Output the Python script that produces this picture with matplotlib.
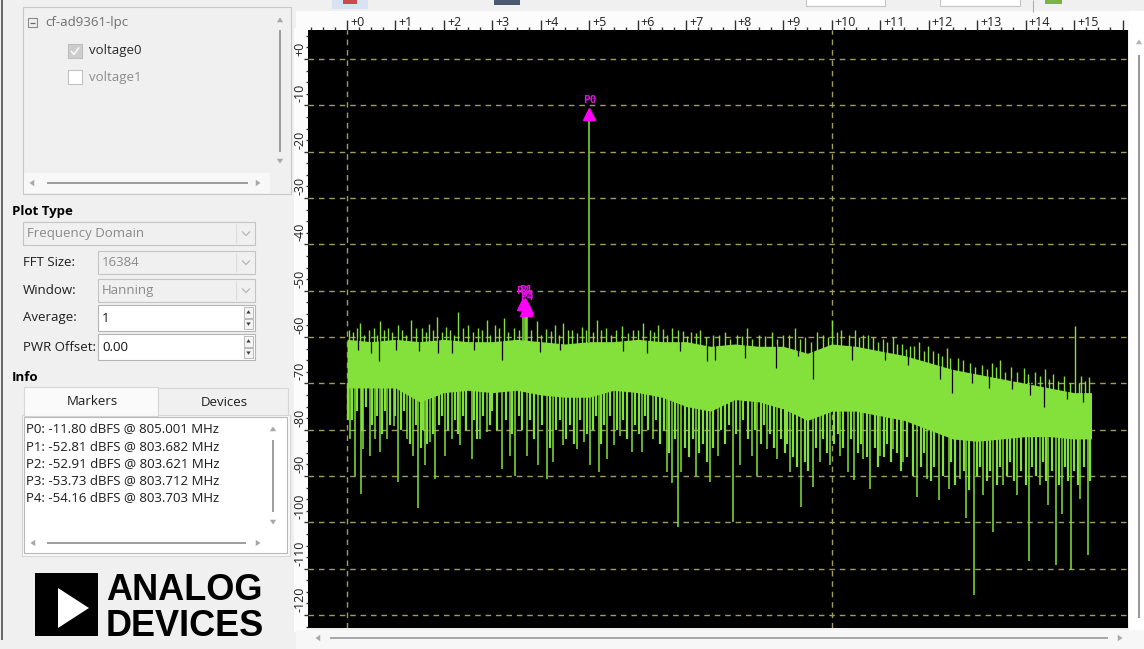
import numpy as np
import matplotlib.pyplot as plt
from matplotlib.patches import Rectangle, Polygon
from matplotlib.ticker import AutoMinorLocator
from matplotlib.transforms import ScaledTranslation

plt.rcParams['font.family'] = ['Open Sans', 'Noto Sans', 'DejaVu Sans']

# ---- spectrum data: x = MHz above 800 MHz, y = dBFS ----
band_f = [0, 0.5, 1.0, 1.5, 2.0, 2.5, 3.0, 3.5, 4.0, 4.5, 5.0, 5.5, 6.0, 6.5, 7.0, 7.5,
          8.0, 8.5, 9.0, 9.5, 10.0, 10.5, 11.0, 11.5, 12.0, 12.5, 13.0, 13.5, 14.0, 14.5, 15.0, 15.36]
# top and bottom of the solid noise floor
band_hi = [-60.5, -61, -60.5, -61, -60.5, -61, -61, -60.5, -61, -61.5, -61, -61, -60.5, -61, -61, -62,
           -61.5, -62, -62, -63.5, -61.5, -62, -63, -64, -65.5, -67, -68, -69, -70, -71, -72, -72]
band_lo = [-71, -71, -71, -74, -72, -71.5, -72, -71.5, -72.5, -73, -73, -71.5, -72, -73, -75, -76,
           -73.5, -74, -75.5, -78, -76, -76, -77, -78, -80, -82, -82.5, -82, -81.5, -81.5, -82, -82]

# upper fringe of the floor
up_spikes = [(0.05, -58.5), (0.12, -59), (0.20, -58), (0.27, -57), (0.36, -59.5), (0.45, -58.5),
             (0.55, -58), (0.62, -59.5), (0.68, -56.6), (0.76, -58.5), (0.85, -58), (0.93, -59),
             (1.05, -57.5), (1.13, -58.5), (1.22, -59.5), (1.33, -56.3), (1.42, -58), (1.55, -58),
             (1.63, -59), (1.70, -57.2), (1.78, -58.5), (1.85, -55.6), (1.96, -59), (2.05, -57.8),
             (2.13, -58.5), (2.20, -59.5), (2.30, -54.5), (2.40, -58), (2.50, -57.5), (2.60, -59),
             (2.70, -58), (2.78, -58.5), (2.88, -56.3), (2.96, -59.5), (3.05, -57.5), (3.13, -58),
             (3.23, -55.9), (3.33, -59), (3.45, -58), (3.55, -58.5), (3.80, -58.5), (3.91, -56.6),
             (4.00, -59.5), (4.10, -58.2), (4.20, -58.7), (4.30, -57.5), (4.38, -59.5), (4.46, -57),
             (4.56, -58.5), (4.65, -58.5), (4.75, -59.2), (4.85, -57.8), (4.94, -58.5), (5.08, -59),
             (5.15, -56.3), (5.25, -58.5), (5.35, -58), (5.45, -59.5), (5.55, -58.5), (5.67, -57.7),
             (5.80, -59.2), (5.90, -58.5), (6.00, -58.5), (6.11, -57), (6.25, -58.5), (6.33, -59),
             (6.42, -57.3), (6.52, -58.3), (6.60, -59.5), (6.70, -58), (6.82, -58.5), (6.94, -58.8),
             (7.02, -59.8), (7.10, -59), (7.20, -59.2), (7.28, -58.4), (7.40, -60), (7.55, -59.5),
             (7.68, -59.5), (7.80, -59), (7.90, -60.5), (8.05, -59.5), (8.15, -59.8), (8.25, -58),
             (8.35, -60.5), (8.50, -59.5), (8.62, -59.8), (8.76, -59), (8.88, -60.5), (9.00, -59.5),
             (9.12, -59.5), (9.24, -58), (9.35, -60.5), (9.45, -60), (9.58, -61), (9.70, -59),
             (9.82, -59.5), (9.92, -60), (10.0, -56.3), (10.10, -59), (10.20, -58.5), (10.35, -59.5),
             (10.48, -58.4), (10.57, -60), (10.65, -59.5), (10.75, -59.5), (10.86, -59.9),
             (10.95, -61), (11.05, -60.5), (11.15, -61), (11.27, -59.9), (11.35, -61.5),
             (11.45, -61.5), (11.53, -62.5), (11.62, -62), (11.70, -62), (11.80, -61), (11.90, -63),
             (11.99, -62), (12.08, -63), (12.20, -63.5), (12.28, -64), (12.37, -62.4), (12.45, -64.5),
             (12.60, -64.5), (12.70, -65), (12.86, -65.6), (12.95, -66.5), (13.10, -66), (13.20, -67),
             (13.30, -65.5), (13.38, -66.5), (13.47, -64.9), (13.58, -67.5), (13.70, -66.5),
             (13.82, -67.5), (13.96, -66.6), (14.05, -68), (14.20, -67.5), (14.30, -68.5),
             (14.40, -67), (14.48, -69), (14.57, -68), (14.66, -69.5), (14.80, -68.5), (14.92, -70),
             (15.02, -57.7), (15.10, -70), (15.15, -68.5), (15.22, -69.5), (15.30, -68.6)]

# forest of short downward lines just under the floor
mid_spikes = [(0.02, -78), (0.10, -78), (0.20, -76), (0.31, -80), (0.40, -75), (0.52, -79),
              (0.62, -77), (0.73, -81), (0.78, -76), (0.88, -79), (1.00, -77), (1.12, -80),
              (1.18, -76), (1.29, -83), (1.42, -79), (1.52, -84), (1.57, -80), (1.66, -83),
              (1.77, -81), (1.90, -79), (1.96, -77), (2.09, -80), (2.22, -78), (2.28, -81),
              (2.40, -77), (2.46, -80), (2.63, -78), (2.68, -82), (2.80, -77), (2.94, -79),
              (3.00, -76), (3.10, -80), (3.28, -78), (3.41, -81), (3.55, -77), (3.60, -80),
              (3.78, -78), (3.85, -82), (4.02, -79), (4.18, -84), (4.32, -80), (4.40, -78),
              (4.52, -82), (4.60, -79), (4.68, -83), (4.80, -78), (4.95, -81), (5.08, -80),
              (5.13, -77), (5.25, -83), (5.30, -79), (5.42, -77), (5.56, -80), (5.70, -78),
              (5.78, -82), (5.95, -79), (6.02, -81), (6.15, -77), (6.22, -80), (6.38, -78),
              (6.45, -83), (6.54, -80), (6.65, -85), (6.76, -82), (6.97, -84), (7.05, -86),
              (7.13, -82), (7.27, -85), (7.35, -83), (7.42, -87), (7.56, -84), (7.72, -80),
              (7.80, -83), (7.88, -79), (8.02, -81), (8.18, -78), (8.27, -82), (8.41, -80),
              (8.55, -83), (8.60, -79), (8.72, -81), (8.80, -84), (8.95, -82), (9.03, -85),
              (9.08, -83), (9.20, -86), (9.28, -88), (9.44, -87), (9.52, -89), (9.68, -84),
              (9.82, -82), (9.90, -85), (10.05, -83), (10.12, -81), (10.24, -84), (10.40, -82),
              (10.55, -85), (10.60, -83), (10.72, -86), (10.90, -84), (10.95, -88), (11.08, -86),
              (11.15, -83), (11.22, -87), (11.35, -85), (11.42, -89), (11.55, -86), (11.68, -90),
              (11.85, -88), (11.90, -85), (12.05, -91), (12.12, -88), (12.30, -90), (12.47, -87),
              (12.55, -92), (12.72, -89), (12.83, -93), (13.00, -90), (13.06, -88), (13.20, -91),
              (13.27, -89), (13.40, -92), (13.48, -88), (13.62, -90), (13.68, -87), (13.77, -91),
              (13.90, -89), (14.00, -92), (14.14, -88), (14.22, -90), (14.36, -87), (14.42, -91),
              (14.55, -89), (14.68, -92), (14.82, -88), (14.88, -91), (15.00, -89), (15.08, -92),
              (15.20, -88), (15.33, -91)]

# long downward lines
down_spikes = [(0.06, -82), (0.17, -89.9), (0.28, -93.8), (0.34, -84.1), (0.47, -85.6), (0.58, -82),
               (0.68, -84.9), (0.82, -82), (0.96, -79.1), (1.06, -91.3), (1.23, -82), (1.37, -85.6),
               (1.46, -97), (1.61, -87.7), (1.71, -82.7), (1.82, -90.6), (2.02, -85.6), (2.16, -82),
               (2.33, -83.4), (2.57, -86.3), (2.74, -82), (2.88, -80.6), (3.19, -88.4), (3.36, -85.6),
               (3.47, -89.9), (3.71, -85.6), (3.95, -87.7), (4.12, -90.6), (4.26, -87), (4.46, -83.4),
               (4.74, -84.1), (4.88, -82.7), (5.01, -87.7), (5.19, -89.1), (5.36, -86.3), (5.50, -83.4),
               (5.63, -81.3), (5.87, -84.9), (6.08, -84.9), (6.32, -82), (6.60, -89.1), (6.70, -91.6),
               (6.82, -100.9), (6.90, -89.1), (7.21, -89.9), (7.49, -91.3), (7.66, -85.6), (7.96, -99.9),
               (8.11, -87.7), (8.35, -85.6), (8.45, -89.9), (8.66, -84.1), (8.87, -86.3), (9.14, -89.1),
               (9.37, -96.6), (9.61, -92.4), (9.76, -87), (9.97, -87.7), (10.17, -85.6), (10.34, -89.1),
               (10.45, -90.9), (10.65, -86.3), (10.79, -92.7), (11.00, -85.6), (11.27, -84.1),
               (11.48, -87), (11.75, -94.5), (11.96, -90.6), (12.21, -95.2), (12.41, -92.7),
               (12.65, -90.6), (12.77, -99.1), (12.94, -115.6), (13.13, -94.1), (13.32, -102),
               (13.54, -92), (13.82, -94.1), (14.07, -108.4), (14.30, -92), (14.47, -96.3),
               (14.62, -109.1), (14.75, -98.1), (14.94, -110.2), (15.13, -94.9), (15.28, -107)]

# dark gaps reaching down from the top of the floor
notches = [(0.23, -62.8), (0.50, -63.5), (0.67, -65.2), (1.02, -62.8), (1.48, -63), (1.88, -63.5),
           (2.16, -63.4), (2.62, -62.8), (3.19, -64.9), (3.98, -63.2), (4.40, -62.7), (5.70, -63),
           (6.18, -63.5), (6.86, -63), (7.42, -65.2), (7.59, -64.9), (8.21, -64.6), (8.86, -66.6),
           (9.30, -64), (9.62, -69.1), (10.42, -64.9), (11.10, -65), (11.58, -66), (12.24, -69.1),
           (12.48, -72), (12.90, -70), (13.25, -71), (13.71, -71.3), (14.10, -72.5), (14.37, -75.2),
           (14.85, -73.4), (15.18, -74)]

marker_names = ["P0", "P1", "P2", "P3", "P4"]
marker_f = [5.001, 3.682, 3.621, 3.712, 3.703]
marker_db = [-11.80, -52.81, -52.91, -53.73, -54.16]

x_ticks = [0, 1, 2, 3, 4, 5, 6, 7, 8, 9, 10, 11, 12, 13, 14, 15, 16]
x_tick_labels = ["+0", "+1", "+2", "+3", "+4", "+5", "+6", "+7", "+8", "+9",
                 "+10", "+11", "+12", "+13", "+14", "+15", ""]
y_ticks = [0, -10, -20, -30, -40, -50, -60, -70, -80, -90, -100, -110, -120]
y_tick_labels = ["+0", "-10", "-20", "-30", "-40", "-50", "-60", "-70", "-80", "-90",
                 "-100", "-110", "-120"]

GREEN = '#84e03a'
MAGENTA = '#ff00ff'
GRID = '#a09c5c'
GUI = '#f0f0f0'
UI_SIZE = 9.5

W, H = 1144, 649
fig = plt.figure(figsize=(W / 100, H / 100), dpi=100, facecolor=GUI)

# ---------- GUI layer, pixel coordinates ----------
ui = fig.add_axes([0, 0, 1, 1], zorder=0)
ui.set_xlim(0, W)
ui.set_ylim(H, 0)
ui.axis('off')


def rect(x0, y0, x1, y1, fc, ec='none', lw=0.8):
    ui.add_patch(Rectangle((x0, y0), x1 - x0, y1 - y0, fc=fc, ec=ec, lw=lw))


def label(x, y, s, size=UI_SIZE, color='#1e1e1e', weight='normal', ha='left'):
    ui.text(x, y, s, fontsize=size, color=color, fontweight=weight, ha=ha, va='center')


def tri(cx, cy, d, s=3.2, color='#a8a8a8'):
    pts = {'up': [(cx - s, cy + s * 0.7), (cx + s, cy + s * 0.7), (cx, cy - s * 0.8)],
           'down': [(cx - s, cy - s * 0.7), (cx + s, cy - s * 0.7), (cx, cy + s * 0.8)],
           'left': [(cx + s * 0.7, cy - s), (cx + s * 0.7, cy + s), (cx - s * 0.8, cy)],
           'right': [(cx - s * 0.7, cy - s), (cx - s * 0.7, cy + s), (cx + s * 0.8, cy)]}[d]
    ui.add_patch(Polygon(pts, closed=True, fc=color, ec='none'))


def line(xs, ys, color='#8c8c8c', lw=1.2):
    ui.plot(xs, ys, color=color, lw=lw, solid_capstyle='butt')


def combo(x0, y0, x1, y1, text):
    rect(x0, y0, x1, y1, GUI, '#c4c4c4')
    label(x0 + 4, (y0 + y1) / 2, text, color='#8a8a8a')
    line([x1 - 19, x1 - 19], [y0 + 2, y1 - 2], color='#dcdcdc', lw=0.8)
    cx, cy = x1 - 9, (y0 + y1) / 2
    line([cx - 4, cx, cx + 4], [cy - 2, cy + 2, cy - 2], color='#b0b0b0', lw=0.8)


def spin(x0, y0, x1, y1, text):
    rect(x0, y0, x1, y1, 'white', '#b4b4b4')
    label(x0 + 4, (y0 + y1) / 2 + 0.5, text, color='#111111')
    rect(x1 - 11, y0 + 2, x1 - 2, (y0 + y1) / 2 - 0.5, '#f4f4f4', '#b0b0b0', 0.6)
    rect(x1 - 11, (y0 + y1) / 2 + 0.5, x1 - 2, y1 - 2, '#f4f4f4', '#b0b0b0', 0.6)
    tri(x1 - 6.5, y0 + 7, 'up', 2.2, '#404040')
    tri(x1 - 6.5, y1 - 7, 'down', 2.2, '#404040')


# window border + toolbar fragments
line([2, 2], [0, 640], color='#505050', lw=1.2)
rect(332, -3, 368, 9, '#d6e3f3')
rect(343, -3, 357, 4, '#cc4a4a')
rect(494, -3, 520, 5, '#4a5870')
rect(806, -3, 885, 6, 'white', '#c4c4c4')
rect(940, -3, 1020, 6, 'white', '#c4c4c4')
line([1033, 1033], [0, 12], color='#b0b0b0', lw=0.8)
rect(1045, -3, 1062, 4, '#7bb246')

# device tree
rect(23, 7, 291, 194, GUI, '#c8c8c8')
rect(24, 173, 270, 193, '#f8f8f8')
rect(28, 18, 37, 27, 'none', '#8a8a8a')
line([30, 35], [22.5, 22.5], color='#6a6a6a', lw=0.9)
label(45, 22.5, 'cf-ad9361-lpc', color='#707070')
rect(68, 44, 82, 58, '#cdcdcd', '#bdbdbd')
line([71, 74, 79], [51, 54.5, 47.5], color='white', lw=1.0)
label(89, 50.5, 'voltage0', color='#2a2a2a')
rect(68, 70, 82, 84, 'white', '#c2c2c2')
label(89, 77, 'voltage1', color='#8c8c8c')
tri(280, 20, 'up')
tri(280, 161, 'down')
line([280, 280], [30, 152])
tri(32, 183, 'left')
tri(258, 183, 'right')
line([47, 248], [183, 183])

# plot type settings
label(12, 211, 'Plot Type', weight='bold', color='#000000')
combo(23, 222, 255, 245, 'Frequency Domain')
label(23, 262.5, 'FFT Size:')
combo(98, 251, 255, 274, '16384')
label(23, 290.5, 'Window:')
combo(98, 279, 255, 302, 'Hanning')
label(23, 318, 'Average:')
spin(98, 305, 255, 331, '1')
label(23, 347.5, 'PWR Offset:')
spin(98, 334, 255, 360, '0.00')
label(12, 377.5, 'Info', weight='bold', color='#000000')

# info tabs
rect(22, 415, 290, 556, '#fafafa', '#d6d6d6')
rect(24, 387, 158, 416, '#fafafa', '#d6d6d6')
rect(158, 388, 288, 415, GUI, '#d6d6d6')
label(92, 401.5, 'Markers', ha='center')
label(224, 402.5, 'Devices', ha='center')
rect(24, 417, 287, 553, 'white', '#b8b8b8')
for i, (name, f, db) in enumerate(zip(marker_names, marker_f, marker_db)):
    label(26, 429 + i * 17.2, f"{name}: {db:.2f} dBFS @ {800 + f:.3f} MHz", color='#1a1a1a')
tri(273, 429, 'up')
tri(273, 522, 'down')
line([273, 273], [440, 512])
tri(33, 543, 'left')
tri(258, 543, 'right')
line([47, 246], [543, 543])

# logo
rect(35, 573, 98, 636, 'black')
ui.add_patch(Polygon([(58, 588), (58, 628), (89, 608)], closed=True, fc='white', ec='none'))
ui.text(106, 600, 'ANALOG', fontsize=26, fontweight='bold', family='Liberation Sans',
        color='black', va='baseline')
ui.text(106, 636, 'DEVICES', fontsize=26, fontweight='bold', family='Liberation Sans',
        color='black', va='baseline')

# scale backgrounds and scrollbars round the plot
rect(296, 11, 1130, 30, '#fcfcfc')
rect(294, 28, 308, 632, '#fcfcfc')
rect(1129, 11, 1144, 632, 'white')
tri(1139, 42, 'up', 3.2, '#b4b4b4')
line([1139, 1139], [55, 618], color='#9a9a9a', lw=1.5)
rect(296, 630, 1144, 649, '#f7f7f7')
tri(318, 638, 'left')
line([330, 1108], [638, 638], color='#9a9a9a', lw=1.2)
tri(1120, 638, 'right')

# ---------- spectrum plot ----------
ax = fig.add_axes([308 / W, 1 - 628 / H, 820 / W, 598 / H], zorder=2)
ax.set_facecolor('black')
ax.set_xlim(-0.805, 16.113)
ax.set_ylim(-122.8, 6.26)
for sp in ax.spines.values():
    sp.set_visible(False)

ax.set_axisbelow(True)
ax.grid(axis='y', which='major', color=GRID, ls=(0, (4, 3.5)), lw=1)
for gx in (0, 10):
    ax.axvline(gx, color=GRID, ls=(0, (4, 3.5)), lw=1, zorder=0.6)

ax.fill_between(band_f, band_lo, band_hi, color=GREEN, lw=0, zorder=1.1)

uf, udb = zip(*up_spikes)
ax.vlines(uf, np.interp(uf, band_f, band_hi) - 1, udb, color=GREEN, lw=1.0, zorder=2)
mf, mdb = zip(*mid_spikes)
ax.vlines(mf, mdb, np.interp(mf, band_f, band_lo) + 1, color=GREEN, lw=1.6, zorder=2)
df, ddb = zip(*down_spikes)
ax.vlines(df, ddb, np.interp(df, band_f, band_lo) + 1, color=GREEN, lw=1.1, zorder=2)
nf, ndb = zip(*notches)
ax.vlines(nf, ndb, np.interp(nf, band_f, band_hi) + 0.5, color='black', lw=0.9, zorder=2.1)

# carrier and marker peaks
ax.vlines(marker_f, -61, marker_db, color=GREEN, lw=1.1, zorder=2.2)
ax.plot(marker_f, marker_db, ls='none', marker='^', ms=9, color=MAGENTA, zorder=5)
for name, f, db in zip(marker_names, marker_f, marker_db):
    ax.annotate(name, (f, db), xytext=(0, 6), textcoords='offset points', ha='center',
                va='bottom', color='#e010e0', fontsize=8, family='DejaVu Sans Mono',
                fontweight='bold', zorder=6)

# top frequency scale
ax.xaxis.tick_top()
ax.set_xticks(x_ticks)
ax.set_xticklabels(x_tick_labels)
ax.xaxis.set_minor_locator(AutoMinorLocator(4))
ax.tick_params(axis='x', which='major', direction='out', length=7, width=1, color='#303030',
               pad=-6, labelsize=9, labelcolor='#202020')
ax.tick_params(axis='x', which='minor', direction='out', length=2.5, width=1, color='#303030')
for lab in ax.get_xticklabels():
    lab.set_ha('left')
    lab.set_transform(lab.get_transform() + ScaledTranslation(0.03, 0, fig.dpi_scale_trans))

# left level scale
ax.set_yticks(y_ticks)
ax.set_yticklabels(y_tick_labels)
ax.yaxis.set_minor_locator(AutoMinorLocator(4))
ax.tick_params(axis='y', which='major', direction='out', length=3, width=1, color='#303030',
               pad=0.5, labelsize=9, labelcolor='#202020', labelrotation=90)
ax.tick_params(axis='y', which='minor', direction='out', length=1.5, width=1, color='#303030')
for lab in ax.get_yticklabels():
    lab.set_va('bottom')
    lab.set_transform(lab.get_transform() + ScaledTranslation(0.03, 0.03, fig.dpi_scale_trans))

fig.savefig('out.png', dpi=100, facecolor=GUI)
